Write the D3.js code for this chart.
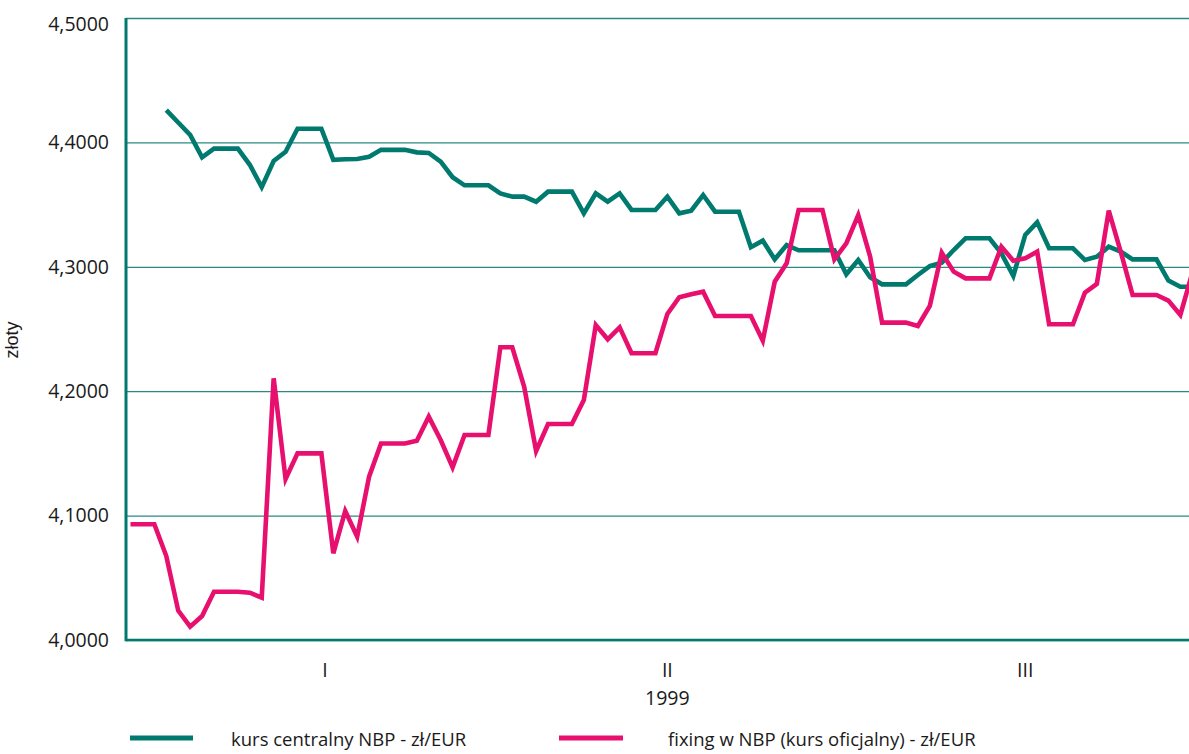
<!DOCTYPE html>
<html>
<head>
<meta charset="utf-8">
<script src="https://cdn.jsdelivr.net/npm/d3@7"></script>
<style>
  body { margin: 0; background: #fff; }
  svg { display: block; }
  text { font-family: "Open Sans", sans-serif; fill: #1a1a1a; }
</style>
</head>
<body>
<svg id="chart"></svg>
<script>
// day index: 0 = 1 Jan 1999 ... 89 = 31 Mar 1999
const days = d3.range(0, 90);

// kurs centralny NBP - zł/EUR (no value before first business day)
const kursCentralny = [
  null, null, null, 4.426, 4.416, 4.406, 4.388, 4.395, 4.395, 4.395,
  4.382, 4.364, 4.385, 4.3925, 4.411, 4.411, 4.411, 4.386, 4.3864, 4.3867,
  4.3885, 4.394, 4.394, 4.394, 4.392, 4.3915, 4.3845, 4.372, 4.3655, 4.3655,
  4.3655, 4.359, 4.3564, 4.3564, 4.3523, 4.3604, 4.3604, 4.3604, 4.343, 4.359,
  4.3523, 4.359, 4.3457, 4.3457, 4.3457, 4.3564, 4.343, 4.3451, 4.3577, 4.3443,
  4.3443, 4.3443, 4.3157, 4.321, 4.306, 4.3175, 4.3133, 4.3133, 4.3133, 4.3133,
  4.294, 4.3055, 4.2916, 4.2859, 4.2859, 4.2859, 4.2934, 4.3006, 4.3033, 4.3135,
  4.3229, 4.3229, 4.3229, 4.3108, 4.2926, 4.3256, 4.3357, 4.3149, 4.3149, 4.3149,
  4.3055, 4.3081, 4.3162, 4.3122, 4.306, 4.306, 4.306, 4.2889, 4.284, 4.284
];

// fixing w NBP (kurs oficjalny) - zł/EUR
const fixing = [
  4.093, 4.093, 4.093, 4.0675, 4.0236, 4.0107, 4.0193, 4.0388, 4.0388, 4.0388,
  4.038, 4.034, 4.2104, 4.1294, 4.150, 4.150, 4.150, 4.0697, 4.1037, 4.083,
  4.1313, 4.158, 4.158, 4.158, 4.1602, 4.1795, 4.1608, 4.1388, 4.1648, 4.1648,
  4.1648, 4.2353, 4.2353, 4.2036, 4.1519, 4.1736, 4.1736, 4.1736, 4.1929, 4.2532,
  4.2417, 4.2513, 4.2305, 4.2305, 4.2305, 4.2621, 4.2755, 4.2779, 4.280, 4.2605,
  4.2605, 4.2605, 4.2605, 4.2406, 4.288, 4.3028, 4.3457, 4.3457, 4.3457, 4.306,
  4.3189, 4.3416, 4.3081, 4.2551, 4.2551, 4.2551, 4.2524, 4.2685, 4.3113, 4.2961,
  4.2907, 4.2907, 4.2907, 4.3162, 4.3049, 4.3068, 4.3122, 4.2538, 4.2538, 4.2538,
  4.2792, 4.2862, 4.3451, 4.3122, 4.2773, 4.2773, 4.2773, 4.2728, 4.2613, 4.295
];

const yTicks = [4.0, 4.1, 4.2, 4.3, 4.4, 4.5];
const monthLabels = ["I", "II", "III"];
const monthPositions = [16.3, 45, 75];
const yearLabel = "1999";
const yTitle = "złoty";
const seriesNames = ["kurs centralny NBP - zł/EUR", "fixing w NBP (kurs oficjalny) - zł/EUR"];

const chartSize = { width: 1189, height: 754 };
const plot = { left: 126, right: 1189, top: 18, bottom: 640 };
const green = "#007a6e";
const pink = "#e8106e";
const gridColor = "#2b8a80";

const plLocale = d3.formatLocale({ decimal: ",", thousands: " ", grouping: [3], currency: ["", " zł"] });
const fmt = plLocale.format(".4f");

const svg = d3.select("#chart")
  .attr("width", chartSize.width)
  .attr("height", chartSize.height);

const x = d3.scaleLinear()
  .domain([0, 89])
  .range([130.5, 130.5 + 89 * 11.93]);

const y = d3.scaleLinear()
  .domain([4.0, 4.5])
  .range([plot.bottom, plot.top]);

// y axis with grid lines
const yAxis = d3.axisLeft(y)
  .tickValues(yTicks)
  .tickFormat(fmt)
  .tickSize(-(plot.right - plot.left))
  .tickPadding(17);

const gy = svg.append("g")
  .attr("transform", `translate(${plot.left},0)`)
  .call(yAxis);
gy.select(".domain").remove();
gy.selectAll(".tick line")
  .attr("stroke", gridColor)
  .attr("stroke-width", 1.3);
gy.selectAll(".tick text")
  .attr("font-size", 19.5)
  .attr("font-family", "Open Sans, sans-serif")
  .attr("fill", "#1a1a1a");
gy.selectAll(".tick text")
  .filter(d => d === 4.5)
  .attr("dy", "0.65em");

// axis lines
svg.append("line")
  .attr("x1", plot.left).attr("x2", plot.right)
  .attr("y1", y(4.0)).attr("y2", y(4.0))
  .attr("stroke", green).attr("stroke-width", 2.6);
svg.append("line")
  .attr("x1", plot.left).attr("x2", plot.left)
  .attr("y1", y(4.5)).attr("y2", y(4.0) + 1.3)
  .attr("stroke", green).attr("stroke-width", 3);

// month labels
svg.selectAll("text.month")
  .data(monthLabels)
  .join("text")
  .attr("class", "month")
  .attr("x", (d, i) => x(monthPositions[i]))
  .attr("y", 677)
  .attr("text-anchor", "middle")
  .attr("font-size", 19.5)
  .text(d => d);

svg.append("text")
  .attr("x", x(monthPositions[1]))
  .attr("y", 705)
  .attr("text-anchor", "middle")
  .attr("font-size", 19.5)
  .text(yearLabel);

svg.append("text")
  .attr("transform", "translate(18,340) rotate(-90)")
  .attr("text-anchor", "middle")
  .attr("font-size", 18)
  .style("font-family", "Liberation Sans, Arial, sans-serif")
  .text(yTitle);

// series
const line = d3.line()
  .defined(d => d.v != null)
  .x(d => x(d.day))
  .y(d => y(d.v));

const toPoints = values => days.map((day, i) => ({ day, v: values[i] }));

svg.append("path")
  .attr("d", line(toPoints(kursCentralny)))
  .attr("fill", "none")
  .attr("stroke", green)
  .attr("stroke-width", 4.6);

svg.append("path")
  .attr("d", line(toPoints(fixing)))
  .attr("fill", "none")
  .attr("stroke", pink)
  .attr("stroke-width", 4.6);

// legend
const legend = [
  { name: seriesNames[0], color: green, x1: 130, x2: 193, tx: 231 },
  { name: seriesNames[1], color: pink, x1: 559, x2: 623, tx: 668 }
];
const lg = svg.selectAll("g.legend")
  .data(legend)
  .join("g")
  .attr("class", "legend");
lg.append("line")
  .attr("x1", d => d.x1).attr("x2", d => d.x2)
  .attr("y1", 738).attr("y2", 738)
  .attr("stroke", d => d.color)
  .attr("stroke-width", 5);
lg.append("text")
  .attr("x", d => d.tx)
  .attr("y", 746)
  .attr("font-size", 18.5)
  .text(d => d.name);
</script>
</body>
</html>
